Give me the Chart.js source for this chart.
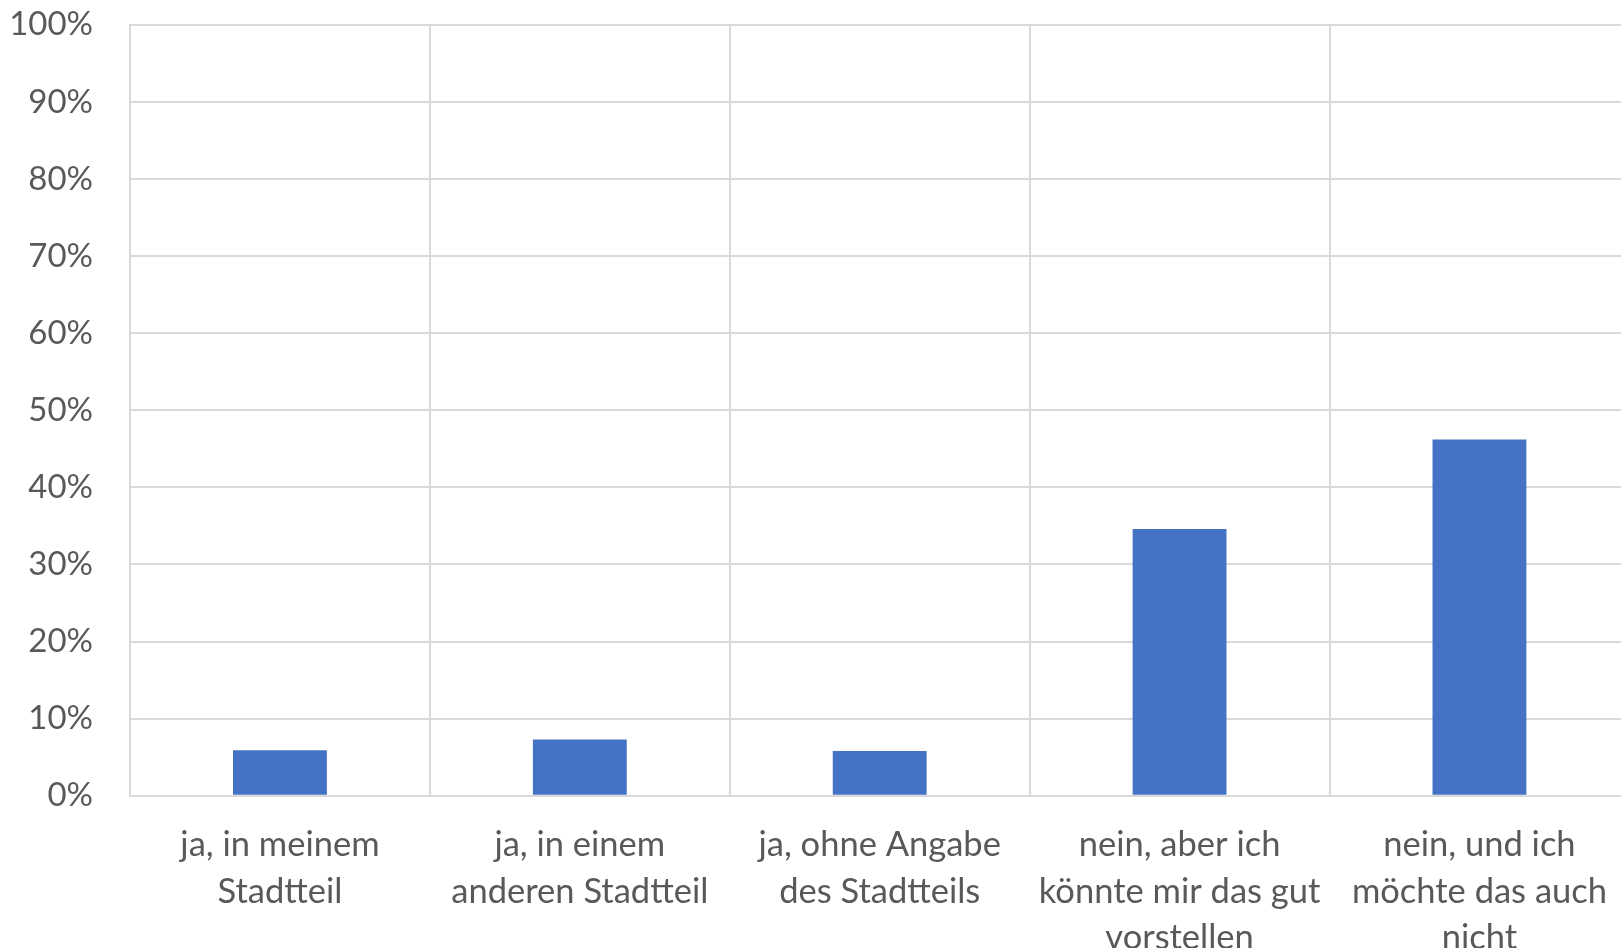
<!DOCTYPE html>
<html>
<head>
<meta charset="utf-8">
<script src="https://cdn.jsdelivr.net/npm/chart.js@4"></script>
<style>
    html, body { margin: 0; padding: 0; background: #ffffff; overflow: hidden; }
    #wrap { position: absolute; left: 0; top: -32px; width: 1633px; height: 1019px; }
</style>
</head>
<body>
<div id="wrap"><canvas id="chart"></canvas></div>
<script>
// Categories (answer options) and share of answers in percent
const categories = [
    ['ja, in meinem', 'Stadtteil'],
    ['ja, in einem', 'anderen Stadtteil'],
    ['ja, ohne Angabe', 'des Stadtteils'],
    ['nein, aber ich', 'könnte mir das gut', 'vorstellen'],
    ['nein, und ich', 'möchte das auch', 'nicht']
];
const shares = [5.9, 7.3, 5.8, 34.6, 46.2];
const yTicks = [0, 10, 20, 30, 40, 50, 60, 70, 80, 90, 100];

const textColor = '#595959';
const gridColor = '#d9d9d9';
const fontFamily = 'Lato, "Open Sans", sans-serif';

const ctx = document.getElementById('chart').getContext('2d');
new Chart(ctx, {
    type: 'bar',
    data: {
        labels: categories,
        datasets: [{
            data: shares,
            backgroundColor: '#4472c4',
            borderWidth: 0,
            categoryPercentage: 1,
            barPercentage: 0.313
        }]
    },
    options: {
        responsive: true,
        maintainAspectRatio: false,
        animation: false,
        layout: { padding: 0 },
        plugins: {
            legend: { display: false },
            tooltip: { enabled: false }
        },
        scales: {
            x: {
                grid: { color: gridColor, lineWidth: 2, drawTicks: false, offset: true },
                border: { color: gridColor, width: 2 },
                ticks: {
                    color: textColor,
                    font: { family: fontFamily, size: 34.5, lineHeight: 1.345 },
                    padding: 26,
                    maxRotation: 0,
                    autoSkip: false
                }
            },
            y: {
                min: 0,
                max: 100,
                afterBuildTicks: (scale) => {
                    scale.ticks = yTicks.map(v => ({ value: v }));
                },
                afterFit: (scale) => {
                    scale.width = 130;
                },
                grid: { color: gridColor, lineWidth: 2, drawTicks: false },
                border: { color: gridColor, width: 2 },
                ticks: {
                    color: textColor,
                    font: { family: fontFamily, size: 33, lineHeight: 1.2 },
                    padding: 37,
                    callback: (v) => v + '%'
                }
            }
        }
    }
});
</script>
</body>
</html>
